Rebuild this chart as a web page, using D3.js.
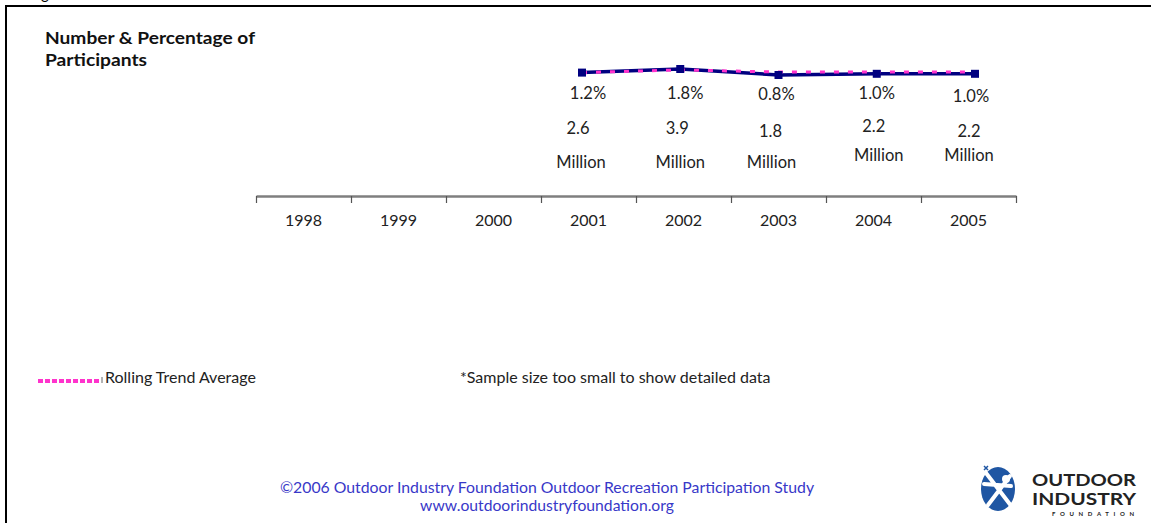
<!DOCTYPE html>
<html><head><meta charset="utf-8">
<script src="https://cdn.jsdelivr.net/npm/d3@7/dist/d3.min.js"></script>
<style>
html,body{margin:0;padding:0;background:#fff;}
svg{display:block;}
text{font-family:Lato,"Open Sans",sans-serif;}
</style></head>
<body>
<svg id="c" width="1151" height="523"></svg>
<script>
// ---- data ----
const years = ["1998","1999","2000","2001","2002","2003","2004","2005"];
const dataYears = [2001,2002,2003,2004,2005];
const pctValues = [1.2,1.8,0.8,1.0,1.0];
const pctLabels = ["1.2%","1.8%","0.8%","1.0%","1.0%"];
const millionValues = ["2.6","3.9","1.8","2.2","2.2"];
const rollingAvg = [1.2,1.65,1.3,1.3,1.3];
// label nudges (layout only)
const pctNudge = [[6,99],[5,99],[-2,100],[0,99],[-4,102]];
const numNudge = [[-4,134],[-3,134],[-8,137],[-3,132],[-6,137]];
const milNudge = [[-1,168],[0,168],[-7,168],[2,161],[-6,161]];

const svg = d3.select("#c");

// frame
svg.append("line").attr("x1",6).attr("x2",1151).attr("y1",6).attr("y2",6).attr("stroke","#000").attr("stroke-width",2);
svg.append("line").attr("x1",6).attr("x2",6).attr("y1",5).attr("y2",523).attr("stroke","#000").attr("stroke-width",2);
// clipped title fragment above frame
svg.append("text").attr("x",41).attr("y",-1).attr("font-size",15).text("g");

// title
svg.append("text").attr("x",45).attr("y",44).attr("font-size",17).attr("font-weight",700).attr("fill","#111")
  .attr("textLength",210).attr("lengthAdjust","spacingAndGlyphs").text("Number & Percentage of");
svg.append("text").attr("x",45).attr("y",66).attr("font-size",17).attr("font-weight",700).attr("fill","#111")
  .attr("textLength",102).attr("lengthAdjust","spacingAndGlyphs").text("Participants");

// category axis
const x = d3.scaleBand().domain(years).range([256,1016]).paddingInner(0).paddingOuter(0);
const xb = d3.scaleLinear().domain([0,years.length]).range([256,1016]);
const axisY = 196;
const ax = svg.append("g").attr("transform",`translate(0,${axisY})`)
  .call(d3.axisBottom(xb).tickValues(d3.range(0,years.length+1)).tickSize(7).tickSizeOuter(0).tickFormat(""));
ax.select(".domain").attr("stroke","#7f7f7f").attr("stroke-width",2.5);
ax.selectAll(".tick line").attr("stroke","#555").attr("stroke-width",1.2);
svg.append("g").selectAll("text").data(years).join("text")
  .attr("x",d=>x(d)+x.bandwidth()/2).attr("y",226)
  .attr("text-anchor","middle").attr("font-size",16)
  .attr("fill","#222").text(d=>d);

// line scales
const xl = d3.scaleLinear().domain([2001,2005]).range([582,975]);
const yl = d3.scaleLinear().domain([0.8,1.8]).range([75,69]);
const line = d3.line().x((d,i)=>xl(dataYears[i])).y(d=>yl(d));

svg.append("path").datum(pctValues).attr("d",line).attr("fill","none")
  .attr("stroke","#000080").attr("stroke-width",3.5);
svg.append("path").datum(rollingAvg).attr("d",line).attr("fill","none")
  .attr("stroke","#ff33cc").attr("stroke-width",3).attr("stroke-dasharray","5,9");
svg.append("g").selectAll("rect").data(pctValues).join("rect")
  .attr("x",(d,i)=>xl(dataYears[i])-4).attr("y",d=>yl(d)-4)
  .attr("width",8).attr("height",8).attr("fill","#000080");

// value labels
const lbl = svg.append("g").attr("font-size",16.5).attr("fill","#222").attr("text-anchor","middle");
lbl.selectAll(".p").data(pctLabels).join("text").attr("class","p")
  .attr("x",(d,i)=>xl(dataYears[i])+pctNudge[i][0]).attr("y",(d,i)=>pctNudge[i][1]).text(d=>d);
lbl.selectAll(".n").data(millionValues).join("text").attr("class","n")
  .attr("x",(d,i)=>xl(dataYears[i])+numNudge[i][0]).attr("y",(d,i)=>numNudge[i][1]).text(d=>d);
lbl.selectAll(".m").data(millionValues).join("text").attr("class","m")
  .attr("x",(d,i)=>xl(dataYears[i])+milNudge[i][0]).attr("y",(d,i)=>milNudge[i][1]).text("Million");

// legend
svg.append("line").attr("x1",38).attr("x2",101).attr("y1",381).attr("y2",381)
  .attr("stroke","#ff33cc").attr("stroke-width",4).attr("stroke-dasharray","5,2");
svg.append("line").attr("x1",102).attr("x2",102).attr("y1",377).attr("y2",383).attr("stroke","#666").attr("stroke-width",1);
svg.append("text").attr("x",105).attr("y",383).attr("font-size",16).attr("fill","#222").text("Rolling Trend Average");
svg.append("text").attr("x",460).attr("y",383).attr("font-size",16).attr("fill","#222").text("*Sample size too small to show detailed data");

// footer
svg.append("text").attr("x",547).attr("y",493).attr("text-anchor","middle").attr("font-size",15.8).attr("fill","#3838c8")
  .text("\u00A92006  Outdoor Industry Foundation Outdoor Recreation Participation Study");
svg.append("text").attr("x",547).attr("y",511).attr("text-anchor","middle").attr("font-size",15.7).attr("fill","#3838c8")
  .text("www.outdoorindustryfoundation.org");

// logo
const lg = svg.append("g");
lg.append("ellipse").attr("cx",998).attr("cy",489).attr("rx",17).attr("ry",22).attr("fill","#1f56a3");
lg.append("path").attr("d","M986,473 L1012,507 M1010,476 L988,505 M984,484 L1011,486").attr("stroke","#fff").attr("stroke-width",4).attr("fill","none").attr("stroke-linecap","round");
lg.append("circle").attr("cx",1006).attr("cy",479).attr("r",4).attr("fill","#fff");
lg.append("path").attr("d","M988,470 l-4,-4 m0,4 l4,-4").attr("stroke","#1f56a3").attr("stroke-width",1.5);
const lf = "'DejaVu Serif',serif";
lg.append("text").attr("x",1032).attr("y",486).attr("font-family",lf).attr("font-weight",700).attr("font-size",17).attr("fill","#222").attr("textLength",104).attr("lengthAdjust","spacingAndGlyphs").text("OUTDOOR");
lg.append("text").attr("x",1032).attr("y",505).attr("font-family",lf).attr("font-weight",700).attr("font-size",17).attr("fill","#222").attr("textLength",104).attr("lengthAdjust","spacingAndGlyphs").text("INDUSTRY");
lg.append("text").attr("x",1052).attr("y",516).attr("font-family","'DejaVu Sans',sans-serif").attr("font-weight",700).attr("font-size",6).attr("fill","#222").attr("textLength",82).text("FOUNDATION");
</script>
</body></html>
